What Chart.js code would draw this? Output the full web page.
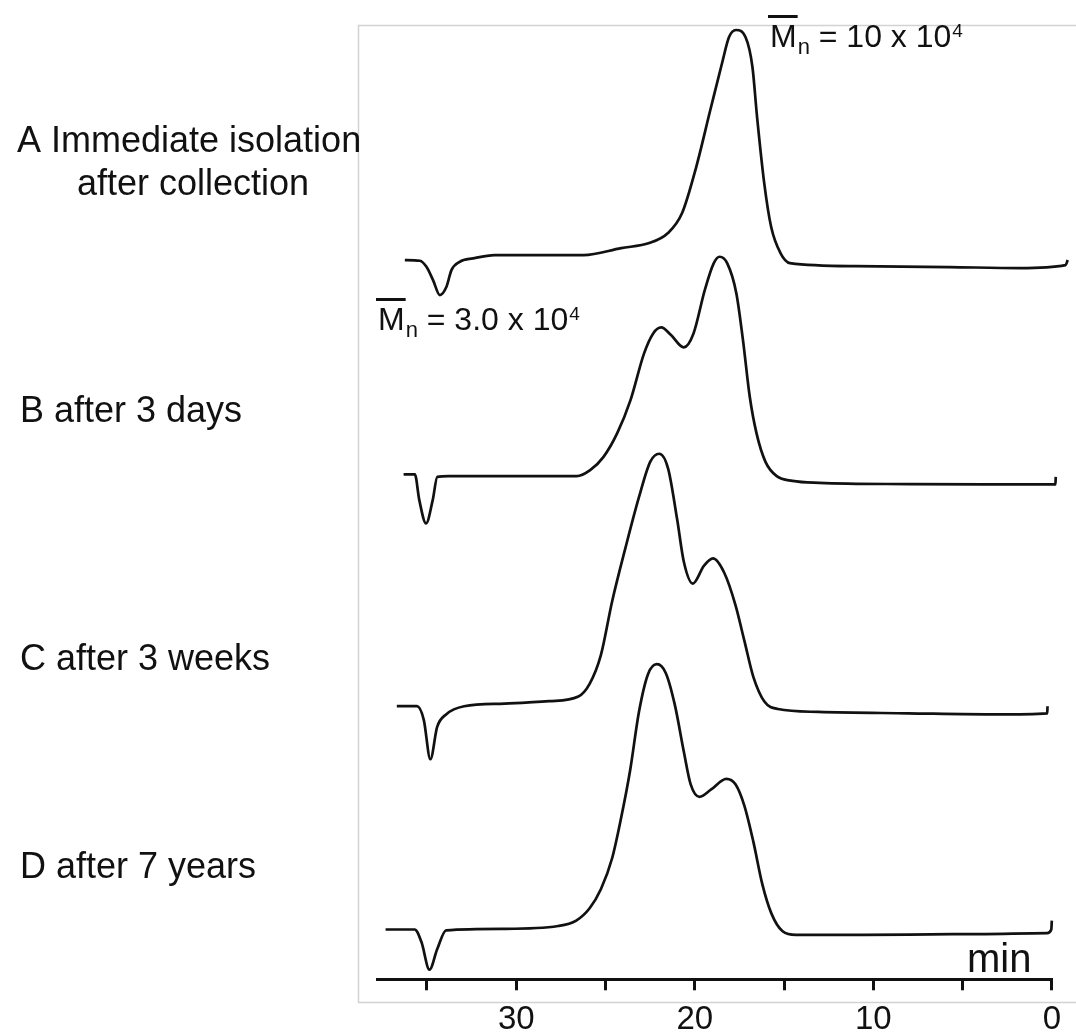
<!DOCTYPE html>
<html>
<head>
<meta charset="utf-8">
<script src="https://cdn.jsdelivr.net/npm/chart.js@4.4.1/dist/chart.umd.min.js"></script>
<style>
  html, body { margin: 0; padding: 0; background: #fff; }
  #wrap { width: 1076px; height: 1034px; position: relative; }
</style>
</head>
<body>
<div id="wrap"><canvas id="gpcChart"></canvas></div>
<script>
// elution time (min) and detector response
const timeA = [36.24, 35.40, 35.03, 34.66, 34.28, 33.91, 33.63, 33.17, 32.42, 31.21, 29.37, 26.23, 24.12, 22.55, 21.50, 20.71, 19.92, 19.13, 18.47, 18.08, 17.69, 17.16, 16.77, 16.51, 16.11, 15.72, 15.20, 14.67, 11.00, 5.74, 1.80, -0.77, -0.89];
const signalA = [0.6, 0.53, -0.07, -1.4, -2.9, -2.07, -0.4, 0.43, 0.77, 1.1, 1.1, 1.1, 1.8, 2.3, 3.3, 5.3, 9.9, 15.6, 20.3, 22.9, 23.6, 22.9, 19.9, 14.9, 8.3, 3.9, 1.3, 0.3, 0.0, -0.1, -0.2, 0.1, 0.6];

const timeB = [36.31, 35.68, 35.43, 35.05, 34.68, 34.42, 33.79, 30.64, 26.62, 25.86, 25.11, 24.35, 23.60, 22.84, 22.33, 21.88, 21.33, 20.62, 20.07, 19.44, 18.94, 18.61, 18.18, 17.67, 17.30, 16.92, 16.54, 16.04, 15.41, 14.53, 13.02, 7.98, 2.94, -0.20, -0.22];
const signalB = [0.97, 0.97, -1.6, -3.93, -1.6, 0.73, 0.8, 0.8, 0.8, 1.4, 2.73, 5.07, 8.4, 13.07, 15.07, 15.67, 14.9, 13.67, 15.07, 19.4, 22.07, 22.73, 22.07, 19.07, 14.4, 8.73, 5.07, 2.23, 0.8, 0.33, 0.13, 0, -0.03, -0.03, 0.73];

const timeC = [36.69, 35.56, 35.18, 34.81, 34.43, 33.93, 32.92, 30.66, 28.15, 26.52, 25.89, 25.26, 24.63, 23.88, 23.13, 22.49, 21.99, 21.49, 20.99, 20.61, 20.11, 19.48, 18.98, 18.35, 17.72, 17.22, 16.72, 16.09, 15.34, 13.08, 8.05, 3.03, 0.26, 0.24];
const signalC = [0.7, 0.7, -0.66, -4.6, -1.37, -0.12, 0.7, 0.96, 1.2, 1.67, 2.93, 5.8, 11.17, 16.55, 21.57, 25.15, 25.94, 24.43, 19.41, 15.11, 12.96, 14.76, 15.47, 14.04, 10.81, 7.23, 3.64, 1.14, 0.42, 0.13, -0.01, -0.12, -0.01, 0.7];

const timeD = [37.32, 35.69, 35.31, 34.86, 34.43, 33.93, 30.66, 27.65, 26.64, 25.89, 25.26, 24.63, 24.13, 23.62, 23.13, 22.62, 22.12, 21.62, 21.11, 20.61, 20.23, 19.73, 19.10, 18.23, 17.72, 17.22, 16.72, 16.21, 15.71, 15.08, 14.33, 10.56, 5.54, 0.26, 0.03, 0.0];
const signalD = [0.48, 0.48, -0.78, -3.54, -1.5, 0.4, 0.55, 0.83, 1.37, 2.6, 4.5, 7.6, 11.6, 16.4, 22.2, 26.0, 27.0, 26.1, 22.88, 18.22, 14.99, 13.74, 14.45, 15.53, 14.99, 12.84, 9.26, 4.96, 2.09, 0.3, -0.06, -0.06, 0.01, 0.12, 0.48, 1.37];

// vertical shift of each trace so they stack
const baselineOffsets = [71.3, 49.5, 26.6, 4.5];

const sampleLabels = [
  ['A Immediate isolation', 'after collection'],
  ['B after 3 days'],
  ['C after 3 weeks'],
  ['D after 7 years']
];
const tickLabels = [30, 20, 10, 0];
const mnLabels = ['10 x 10', '3.0 x 10'];

function toPoints(times, values, offset) {
  return times.map((t, i) => ({ x: t, y: offset + values[i] }));
}

const traces = [
  toPoints(timeA, signalA, baselineOffsets[0]),
  toPoints(timeB, signalB, baselineOffsets[1]),
  toPoints(timeC, signalC, baselineOffsets[2]),
  toPoints(timeD, signalD, baselineOffsets[3])
];

const FONT = '"Liberation Sans", Arial, sans-serif';

function drawMn(ctx, x, base, rest) {
  ctx.font = '32px ' + FONT;
  ctx.fillText('M', x, base);
  const wM = ctx.measureText('M').width;
  ctx.fillRect(x - 2, base - 32, wM + 3, 3);
  ctx.font = '22px ' + FONT;
  ctx.fillText('n', x + wM + 1, base + 7);
  const wn = ctx.measureText('n').width;
  ctx.font = '32px ' + FONT;
  const restText = ' = ' + rest;
  ctx.fillText(restText, x + wM + wn + 1, base);
  const wr = ctx.measureText(restText).width;
  ctx.font = '19px ' + FONT;
  ctx.fillText('4', x + wM + wn + wr + 2, base - 10);
}

const decor = {
  id: 'decor',
  beforeDraw(chart) {
    const ctx = chart.ctx;
    ctx.save();
    ctx.fillStyle = '#fff';
    ctx.fillRect(0, 0, chart.width, chart.height);
    ctx.strokeStyle = '#d2d2d2';
    ctx.lineWidth = 1.5;
    ctx.beginPath();
    ctx.moveTo(chart.width, 25.5);
    ctx.lineTo(358.5, 25.5);
    ctx.lineTo(358.5, 1002.5);
    ctx.lineTo(chart.width, 1002.5);
    ctx.stroke();
    ctx.restore();
  },
  afterDraw(chart) {
    const ctx = chart.ctx;
    ctx.save();
    ctx.fillStyle = '#111';
    ctx.textBaseline = 'alphabetic';
    ctx.textAlign = 'left';
    ctx.font = '36px ' + FONT;
    ctx.fillText(sampleLabels[0][0], 17, 152);
    ctx.fillText(sampleLabels[0][1], 77, 195);
    ctx.fillText(sampleLabels[1][0], 20, 422);
    ctx.fillText(sampleLabels[2][0], 20, 670);
    ctx.fillText(sampleLabels[3][0], 20, 878);

    drawMn(ctx, 770, 47, mnLabels[0]);
    drawMn(ctx, 378, 330, mnLabels[1]);

    ctx.font = '40px ' + FONT;
    ctx.fillText('min', 967, 972);
    ctx.restore();
  }
};

const datasets = traces.map((pts, i) => ({
  label: sampleLabels[i][0],
  data: pts,
  borderColor: '#111',
  borderWidth: 2.7,
  pointRadius: 0,
  fill: false,
  cubicInterpolationMode: 'monotone',
  clip: false
}));

new Chart(document.getElementById('gpcChart'), {
  type: 'line',
  data: { datasets: datasets },
  options: {
    responsive: true,
    maintainAspectRatio: false,
    animation: false,
    devicePixelRatio: 1,
    layout: { padding: { left: 377, right: 23, top: 25, bottom: -16 } },
    plugins: {
      legend: { display: false },
      tooltip: { enabled: false }
    },
    scales: {
      x: {
        type: 'linear',
        reverse: true,
        min: 0,
        max: 37.8,
        grid: {
          display: true,
          drawOnChartArea: false,
          drawTicks: true,
          tickLength: 11,
          lineWidth: 3,
          color: '#111'
        },
        border: { display: true, color: '#111', width: 3 },
        ticks: {
          stepSize: 5,
          includeBounds: false,
          autoSkip: false,
          maxRotation: 0,
          padding: 15,
          color: '#111',
          font: { family: FONT, size: 33, lineHeight: 0.9 },
          callback: (v) => tickLabels.includes(v) ? String(v) : ''
        }
      },
      y: {
        display: false,
        min: 0,
        max: 95.4
      }
    }
  },
  plugins: [decor]
});
</script>
</body>
</html>
